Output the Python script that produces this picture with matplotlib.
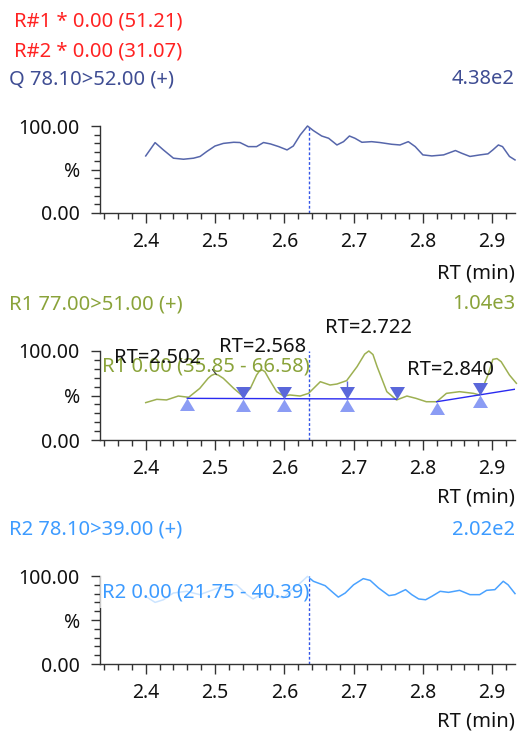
import numpy as np
import matplotlib
matplotlib.use("Agg")
import matplotlib.pyplot as plt
from matplotlib.ticker import MultipleLocator, FixedLocator, FixedFormatter
from matplotlib.patches import Rectangle
from matplotlib.path import Path

plt.rcParams['font.family'] = ['Noto Sans', 'DejaVu Sans']

# --- data (RT in min, intensity in %) ---
q_rt = [2.400, 2.4135, 2.4255, 2.440, 2.4545, 2.469, 2.4785, 2.488, 2.500, 2.512,
        2.527, 2.536, 2.548, 2.560, 2.570, 2.580, 2.592, 2.604, 2.613, 2.623,
        2.6335, 2.642, 2.654, 2.664, 2.676, 2.6855, 2.694, 2.702, 2.712, 2.726,
        2.738, 2.755, 2.767, 2.779, 2.789, 2.800, 2.813, 2.830, 2.847, 2.856,
        2.868, 2.8825, 2.894, 2.901, 2.909, 2.915, 2.925, 2.933]
q_int = [65.6, 80.9, 72.5, 63.0, 61.8, 63.0, 65.0, 70.6, 77.0, 80.0,
         81.3, 81.0, 76.3, 76.3, 81.0, 79.4, 76.3, 72.5, 77.0, 89.7,
         100.0, 94.7, 88.5, 85.9, 78.2, 82.0, 88.5, 85.9, 81.3, 82.0,
         81.0, 79.0, 78.2, 82.0, 76.3, 66.8, 65.6, 66.8, 71.8, 68.7,
         65.0, 66.8, 68.0, 72.5, 78.2, 76.3, 65.0, 61.0]

r1_rt = [2.400, 2.416, 2.430, 2.447, 2.462, 2.478, 2.490, 2.495, 2.500, 2.505,
         2.512, 2.527, 2.540, 2.551, 2.560, 2.564, 2.568, 2.572, 2.578, 2.589,
         2.599, 2.608, 2.623, 2.635, 2.652, 2.666, 2.676, 2.690, 2.705, 2.716,
         2.722, 2.728, 2.734, 2.748, 2.762, 2.777, 2.790, 2.805, 2.820, 2.834,
         2.853, 2.873, 2.882, 2.894, 2.901, 2.907, 2.913, 2.925, 2.935]
r1_int = [42.0, 45.7, 45.0, 49.4, 48.0, 58.0, 69.3, 72.6, 74.2, 72.8,
          69.3, 58.0, 49.4, 58.0, 73.0, 77.4, 78.7, 76.8, 68.5, 54.3,
          49.4, 50.6, 49.4, 52.4, 65.5, 61.8, 62.9, 66.7, 82.4, 96.5,
          100.0, 96.0, 82.4, 54.3, 45.0, 49.4, 46.8, 43.0, 43.0, 52.4,
          54.3, 52.4, 50.6, 73.0, 90.6, 91.5, 88.0, 73.0, 63.7]

r2_rt = [2.400, 2.4135, 2.4255, 2.440, 2.459, 2.478, 2.498, 2.517, 2.531, 2.546,
         2.555, 2.570, 2.584, 2.599, 2.613, 2.623, 2.6335, 2.642, 2.659, 2.671,
         2.678, 2.688, 2.700, 2.714, 2.724, 2.736, 2.751, 2.760, 2.775, 2.784,
         2.794, 2.804, 2.813, 2.825, 2.837, 2.853, 2.868, 2.882, 2.892, 2.904,
         2.916, 2.923, 2.933]
r2_int = [76.9, 70.0, 73.0, 80.7, 82.6, 78.8, 84.5, 90.0, 90.0, 78.8,
          73.9, 80.7, 78.8, 75.0, 86.4, 92.0, 99.6, 94.0, 89.0, 80.7,
          76.0, 80.7, 90.0, 97.0, 95.0, 86.4, 77.7, 78.8, 84.5, 78.8,
          73.9, 73.0, 76.9, 82.6, 81.4, 83.7, 78.8, 78.8, 83.7, 84.5,
          94.0, 90.0, 80.0]

# integration baselines for R1 (two segments)
base1_rt = [2.460, 2.762]
base1_int = [46.8, 46.0]
base2_rt = [2.820, 2.935]
base2_int = [43.0, 57.3]

peak_start = [2.460, 2.540, 2.600, 2.690, 2.820, 2.882]
peak_end = [2.540, 2.600, 2.690, 2.762, 2.882]
peak_labels = [2.502, 2.568, 2.722, 2.840]

cursor_rt = 2.635

W, H = 520, 733
FS = 14.5   # header / label text
TS = 14     # tick labels
fig = plt.figure(figsize=(W / 100, H / 100), dpi=100)


def fx(px):
    return px / W


def fy(py):
    return 1 - py / H


def make_axes(top, bottom):
    ax = fig.add_axes([fx(100), fy(bottom), fx(515) - fx(100), (bottom - top) / H])
    ax.set_xlim(2.334, 2.933)
    ax.set_ylim(0, 100)
    for s in ['top', 'right']:
        ax.spines[s].set_visible(False)
    for s in ['left', 'bottom']:
        ax.spines[s].set_color('#333333')
        ax.spines[s].set_linewidth(1.0)
    ax.xaxis.set_major_locator(MultipleLocator(0.1))
    ax.xaxis.set_minor_locator(MultipleLocator(0.02))
    ax.xaxis.set_major_formatter(matplotlib.ticker.FormatStrFormatter('%.1f'))
    ax.yaxis.set_major_locator(FixedLocator([0, 50, 100]))
    ax.yaxis.set_major_formatter(FixedFormatter(['0.00', '%', '100.00']))
    ax.yaxis.set_minor_locator(MultipleLocator(10))
    ax.tick_params(axis='x', which='major', length=7.5, width=1, color='#333333',
                   labelsize=TS, pad=6, labelcolor='#111111')
    ax.tick_params(axis='x', which='minor', length=4.5, width=1, color='#333333')
    ax.tick_params(axis='y', which='major', length=6.5, width=1, color='#333333',
                   labelsize=TS, pad=8, labelcolor='#111111')
    ax.tick_params(axis='y', which='minor', length=4.5, width=1, color='#333333')
    ax.axvline(cursor_rt, color='#3355e6', lw=1.0, ls=(0, (2, 1.5)), zorder=2)
    return ax


# ---- top: Q trace ----
ax1 = make_axes(126, 213)
ax1.plot(q_rt, q_int, color='#5666ab', lw=1.1, clip_on=False, zorder=3)
fig.text(fx(14), fy(22), 'R#1 * 0.00 (51.21)', color='#ff2222', fontsize=FS, va='center')
fig.text(fx(14), fy(51), 'R#2 * 0.00 (31.07)', color='#ff2222', fontsize=FS, va='center')
fig.text(fx(9), fy(79), 'Q 78.10>52.00 (+)', color='#3f4d93', fontsize=FS, va='center')
fig.text(fx(515), fy(79), '4.38e2', color='#3f4d93', fontsize=FS, va='center', ha='right')
fig.text(fx(515), fy(273), 'RT (min)', color='#111111', fontsize=FS, va='center', ha='right')

# ---- middle: R1 trace with integration ----
ax2 = make_axes(351, 440)
ax2.plot(r1_rt, r1_int, color='#9db052', lw=1.1, clip_on=False, zorder=3)
ax2.plot(base1_rt, base1_int, color='#2a2af0', lw=1.0, zorder=4)
ax2.plot(base2_rt, base2_int, color='#2a2af0', lw=1.0, zorder=4)

base_rt = base1_rt + base2_rt
base_int = base1_int + base2_int
up_tri = Path([(-0.6, -1), (0.6, -1), (0, 0), (-0.6, -1)])
down_tri = Path([(-0.6, 1), (0.6, 1), (0, 0), (-0.6, 1)])
ax2.plot(peak_start, np.interp(peak_start, base_rt, base_int), ls='none',
         marker=up_tri, ms=18, color='#8b9cf4', mec='none', zorder=5)
ax2.plot(peak_end, np.interp(peak_end, base_rt, base_int), ls='none',
         marker=down_tri, ms=18, color='#5a67da', mec='none', zorder=5)
ax2.vlines(2.690, np.interp(2.690, base_rt, base_int), np.interp(2.690, r1_rt, r1_int),
           color='#5a67da', lw=1.0, zorder=4)

ax2.text(2.337, 83, 'R1 0.00 (35.85 - 66.58)', color='#8aa33a', fontsize=FS,
         va='center', ha='left', zorder=6)
for rt in peak_labels:
    top = np.interp(rt, r1_rt, r1_int)
    if rt == 2.502:
        off = (-59, 6)
        ax2.annotate('', xy=(rt, top), xytext=(-4, 5), textcoords='offset pixels',
                     arrowprops=dict(arrowstyle='-', color='#333333', lw=0.8,
                                     shrinkA=0, shrinkB=0))
    else:
        off = (0, 13)
    ax2.annotate('RT=%.3f' % rt, xy=(rt, top), xytext=off, textcoords='offset pixels',
                 ha='center', va='bottom', fontsize=FS, color='#111111', zorder=7)

fig.text(fx(9), fy(304), 'R1 77.00>51.00 (+)', color='#8aa33a', fontsize=FS, va='center')
fig.text(fx(515), fy(304), '1.04e3', color='#8aa33a', fontsize=FS, va='center', ha='right')
fig.text(fx(515), fy(497), 'RT (min)', color='#111111', fontsize=FS, va='center', ha='right')

# ---- bottom: R2 trace ----
ax3 = make_axes(576, 664)
ax3.plot(r2_rt, r2_int, color='#4aa2ff', lw=1.1, clip_on=False, zorder=3)
ax3.add_patch(Rectangle((2.334, 63.6), cursor_rt - 2.334, 38, facecolor='white',
                        edgecolor='none', alpha=0.72, zorder=4, clip_on=False))
ax3.text(2.337, 81, 'R2 0.00 (21.75 - 40.39)', color='#3d9bff', fontsize=FS,
         va='center', ha='left', zorder=6)
fig.text(fx(9), fy(530), 'R2 78.10>39.00 (+)', color='#3d9bff', fontsize=FS, va='center')
fig.text(fx(515), fy(530), '2.02e2', color='#3d9bff', fontsize=FS, va='center', ha='right')
fig.text(fx(515), fy(722), 'RT (min)', color='#111111', fontsize=FS, va='center', ha='right')

fig.savefig('out.png', dpi=100)
